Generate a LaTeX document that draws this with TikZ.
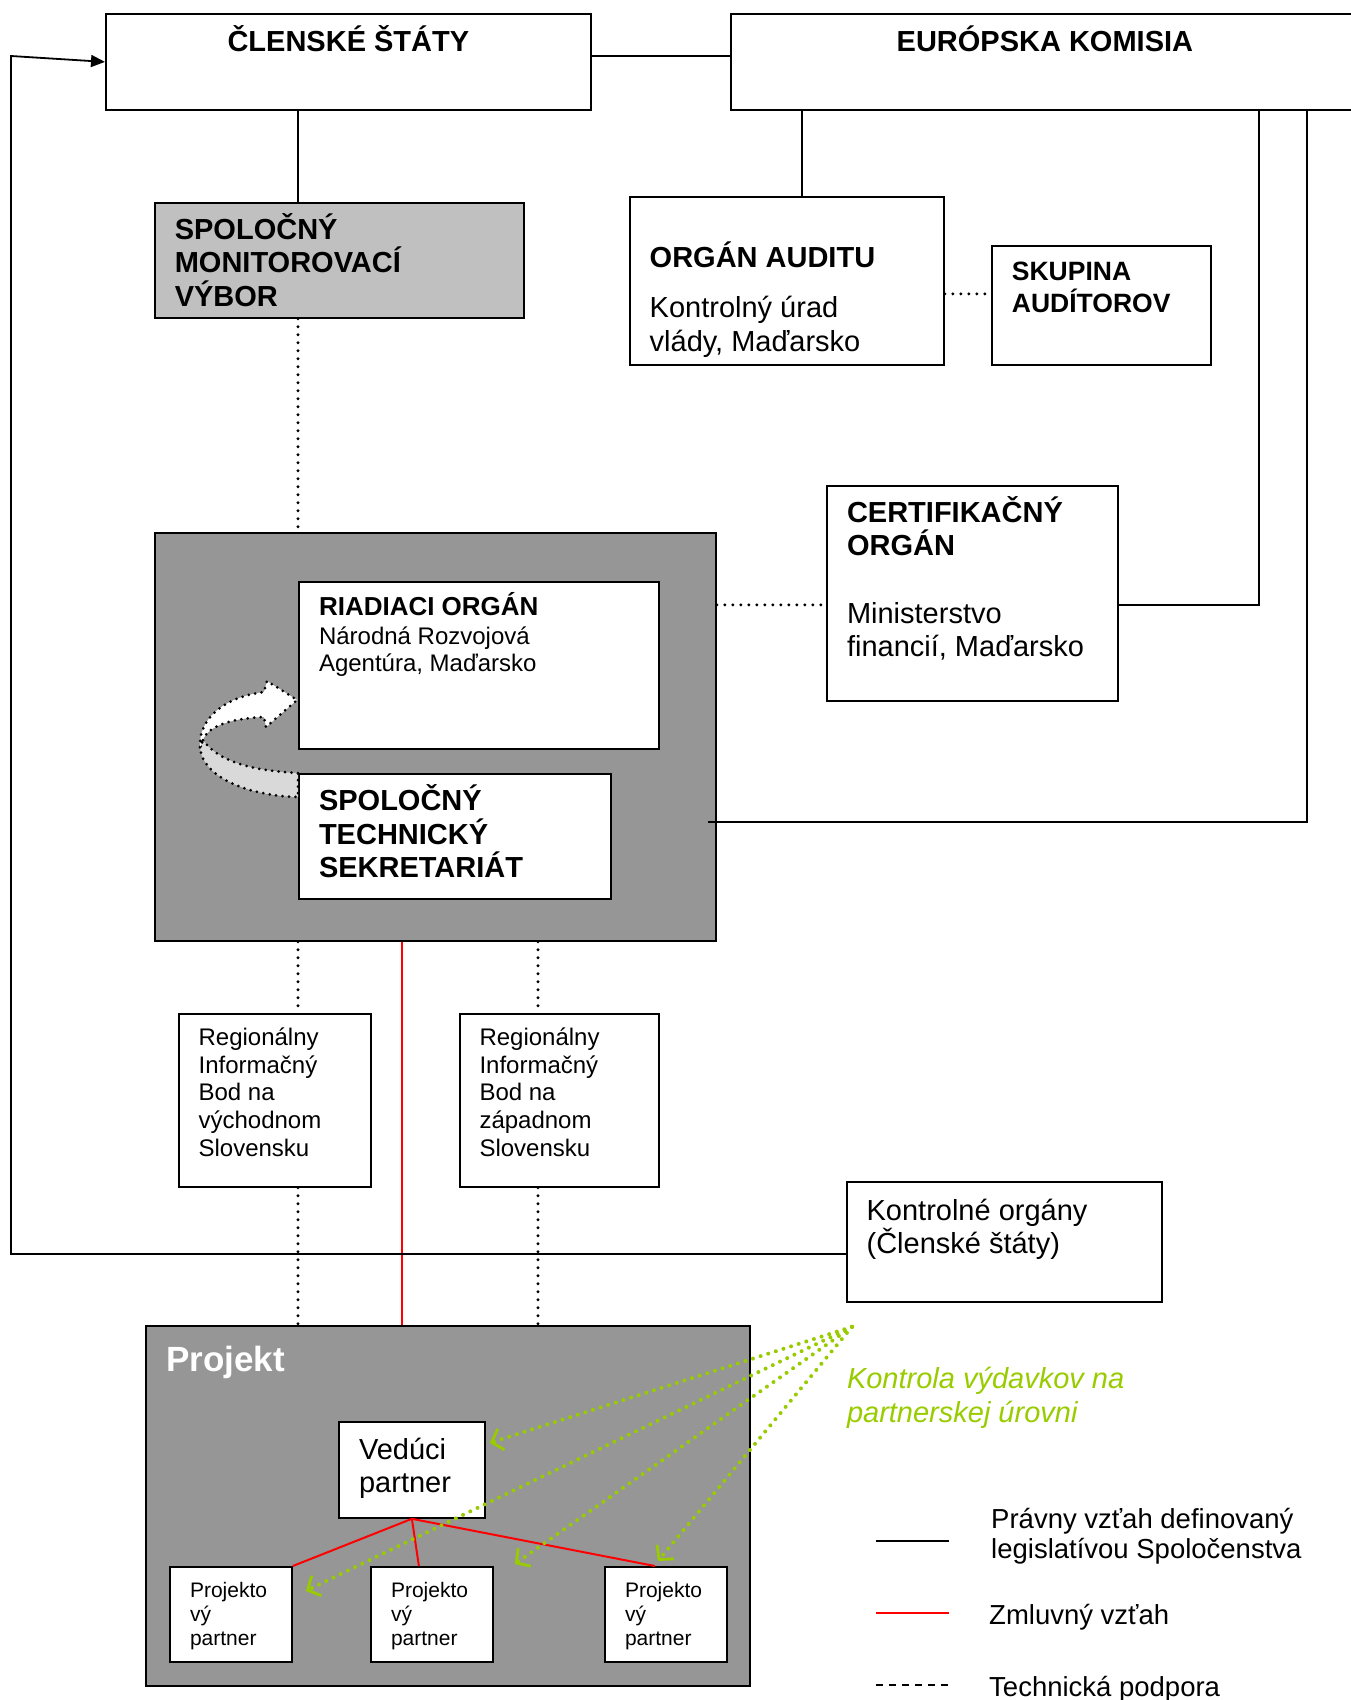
\documentclass[tikz,border=0pt]{standalone}
\usepackage{fontspec}
\setmainfont{Liberation Sans}
\usetikzlibrary{arrows.meta}
\definecolor{boxgray}{HTML}{969696}
\definecolor{paleboxgray}{HTML}{C0C0C0}
\definecolor{arrowgray}{HTML}{D9D9D9}
\definecolor{checkgreen}{HTML}{99CC00}
\begin{document}
\begin{tikzpicture}[x=1pt,y=-1pt,
  box/.style={draw, line width=1.8pt, fill=white, rectangle, inner sep=0pt, anchor=north west},
  txt/.style={inner sep=0pt, anchor=base west, align=left},
  hdbig/.style={font=\bfseries\fontsize{29}{33.6}\selectfont},
  hdmid/.style={font=\bfseries\fontsize{26.5}{31.5}\selectfont},
  plainbig/.style={font=\fontsize{29}{33.6}\selectfont},
  plainmid/.style={font=\fontsize{24}{27.6}\selectfont},
  plainsmall/.style={font=\fontsize{21}{24}\selectfont},
  legendtxt/.style={font=\fontsize{27.5}{30.5}\selectfont},
  link/.style={line width=1.8pt},
  dotline/.style={line width=3.3pt, dash pattern=on 0pt off 8pt, line cap=round},
  arrowdots/.style={line width=3pt, dash pattern=on 0pt off 6.5pt, line cap=round},
  contract/.style={red, line width=2pt},
  check/.style={checkgreen, line width=4pt, dash pattern=on 0pt off 8pt, line cap=round,
    -{Straight Barb[length=10pt,width=22pt,line width=2.8pt]}}]
\useasboundingbox (0,0) rectangle (1351,1700);
\clip (0,0) rectangle (1351,1700);

\node[box, minimum width=485pt, minimum height=96pt] (cs) at (105,13) {};
\node[box, minimum width=628pt, minimum height=96pt] (ek) at (730,13) {};
\node[inner sep=0pt, anchor=base, hdbig] (cst) at ([shift={(0,38.6)}]cs.north) {ČLENSKÉ ŠTÁTY};
\node[inner sep=0pt, anchor=base, hdbig] (ekt) at ([shift={(0,38.6)}]ek.north) {EURÓPSKA KOMISIA};

\node[box, fill=paleboxgray, minimum width=369pt, minimum height=115pt] (smv) at (154,202) {};
\node[txt, hdbig] (smvt) at ([shift={(20.6,104.2)}]smv.north west) {SPOLOČNÝ\\MONITOROVACÍ\\VÝBOR};

\node[box, minimum width=314pt, minimum height=168pt] (oa) at (629,196) {};
\node[txt, hdbig] (oat) at ([shift={(20.5,71)}]oa.north west) {ORGÁN AUDITU};
\node[txt, plainbig] (oad) at ([shift={(20.5,155.1)}]oa.north west) {Kontrolný úrad\\vlády, Maďarsko};

\node[box, minimum width=219pt, minimum height=119pt] (sa) at (991,245) {};
\node[txt, hdmid] (sat) at ([shift={(20.7,67)}]sa.north west) {SKUPINA\\AUDÍTOROV};

\node[box, minimum width=291pt, minimum height=215pt] (co) at (826,485) {};
\node[txt, hdbig] (cot) at ([shift={(20.8,70.6)}]co.north west) {CERTIFIKAČNÝ\\ORGÁN};
\node[txt, plainbig] (cod) at ([shift={(20.8,171.6)}]co.north west) {Ministerstvo\\financií, Maďarsko};

\node[box, fill=boxgray, minimum width=561pt, minimum height=408pt] (ma) at (154,532) {};
\node[box, minimum width=360pt, minimum height=167pt] (ro) at (298,581) {};
\node[txt, font=\bfseries\fontsize{26}{30}\selectfont] (rot) at ([shift={(20.8,34)}]ro.north west) {RIADIACI ORGÁN};
\node[txt, plainmid] (rod) at ([shift={(20.8,90.6)}]ro.north west) {Národná Rozvojová\\Agentúra, Maďarsko};
\node[box, minimum width=312pt, minimum height=125pt] (sts) at (298,773) {};
\node[txt, hdbig] (stst) at ([shift={(20.8,104.7)}]sts.north west) {SPOLOČNÝ\\TECHNICKÝ\\SEKRETARIÁT};

\filldraw[fill=arrowgray, arrowdots] (298,773) .. controls (255,771) and (218,762) .. (203,740)
  -- (200,748) .. controls (203,778) and (250,796) .. (298,797) -- cycle;
\filldraw[fill=white, arrowdots] (203,740) .. controls (208,725) and (235,718) .. (264,717)
  -- (266,727) -- (297,700) -- (267,681) -- (264,692)
  .. controls (225,697) and (198,718) .. (200,748) -- cycle;

\node[box, minimum width=192pt, minimum height=173pt] (re) at (178,1013) {};
\node[txt, plainmid] (ret) at ([shift={(20.4,143.1)}]re.north west) {Regionálny\\Informačný\\Bod na\\východnom\\Slovensku};
\node[box, minimum width=199pt, minimum height=173pt] (rw) at (459,1013) {};
\node[txt, plainmid] (rwt) at ([shift={(20.3,143.1)}]rw.north west) {Regionálny\\Informačný\\Bod na\\západnom\\Slovensku};

\node[box, minimum width=315pt, minimum height=120pt] (ko) at (846,1181) {};
\node[txt, plainbig] (kot) at ([shift={(20.4,72.6)}]ko.north west) {Kontrolné orgány\\(Členské štáty)};

\node[box, fill=boxgray, minimum width=604pt, minimum height=360pt] (proj) at (145,1325) {};
\node[txt, white, font=\bfseries\fontsize{35}{40}\selectfont] (projt) at ([shift={(21,46)}]proj.north west) {Projekt};
\node[box, minimum width=146pt, minimum height=96pt] (vp) at (338,1421) {};
\node[txt, plainbig] (vpt) at ([shift={(20.9,71.6)}]vp.north west) {Vedúci\\partner};
\node[box, minimum width=122pt, minimum height=95pt] (pp1) at (169,1566) {};
\node[box, minimum width=122pt, minimum height=95pt] (pp2) at (370,1566) {};
\node[box, minimum width=122pt, minimum height=95pt] (pp3) at (604,1566) {};
\node[txt, plainsmall] (pp1t) at ([shift={(20.8,79)}]pp1.north west) {Projekto\\vý\\partner};
\node[txt, plainsmall] (pp2t) at ([shift={(20.8,79)}]pp2.north west) {Projekto\\vý\\partner};
\node[txt, plainsmall] (pp3t) at ([shift={(20.8,79)}]pp3.north west) {Projekto\\vý\\partner};

\node[txt, checkgreen, font=\itshape\fontsize{29}{33.6}\selectfont] (kont) at ([shift={(0.8,119.6)}]ko.south west) {Kontrola výdavkov na\\partnerskej úrovni};

\coordinate (xa) at (298,0);
\coordinate (xr) at (402,0);
\coordinate (xb) at (538,0);
\coordinate (xo) at (802,0);
\coordinate (xc) at (1259,0);
\coordinate (xd) at (1307,0);
\coordinate (lp) at (11,56);
\coordinate (cw) at ([yshift=-11.5pt]co.west);
\coordinate (kw) at ([yshift=-12pt]ko.west);
\coordinate (ks) at ([xshift=6pt,yshift=-24pt]ko.south west);

\draw[link] ([yshift=6pt]cs.east) -- ([yshift=6pt]ek.west);
\draw[link] (cs.south -| xa) -- (smv.north -| xa);
\draw[dotline] (smv.south -| xa) -- (ma.north -| xa);
\draw[link] (ek.south -| xo) -- (oa.north -| xo);
\draw[dotline] ([yshift=-13pt]oa.east) -- ([yshift=11.5pt]sa.west);
\draw[link] ([yshift=-11.5pt]co.east) -| (ek.south -| xc);
\draw[link] ([xshift=-9pt,yshift=-85pt]ma.east) -| (ek.south -| xd);
\draw[dotline] (ma.east |- cw) -- (cw);
\draw[dotline] (ma.south -| xa) -- (re.north -| xa);
\draw[dotline] (ma.south -| xb) -- (rw.north -| xb);
\draw[red, line width=1.4pt] (ma.south -| xr) -- (proj.north -| xr);
\draw[dotline] (re.south -| xa) -- (proj.north -| xa);
\draw[dotline] (rw.south -| xb) -- (proj.north -| xb);
\draw[link, -{Triangle[length=14pt,width=12pt]}] (kw) -| (lp) -- (cs.west);

\draw[contract] (vp.south) -- (pp1.north east);
\draw[contract] (vp.south) -- ([xshift=-13pt]pp2.north);
\draw[contract] (vp.south) -- ([xshift=-11pt]pp3.north);

\draw[check] (ks) -- ([xshift=4pt,yshift=27pt]vp.east);
\draw[check] (ks) -- ([xshift=13pt,yshift=23.5pt]pp1.east);
\draw[check] (ks) -- ([xshift=21pt,yshift=2pt]pp2.north east);
\draw[check] (ks) -- ([xshift=-8pt,yshift=5pt]pp3.north);

\draw[link] (876,1541) -- (949,1541);
\draw[contract] (876,1613) -- (949,1613);
\draw[line width=1.6pt, dash pattern=on 7pt off 6pt] (876,1685) -- (949,1685);
\node[txt, legendtxt] (lg1) at (991,1558.5) {Právny vzťah definovaný\\legislatívou Spoločenstva};
\node[txt, legendtxt] (lg2) at (989,1624) {Zmluvný vzťah};
\node[txt, legendtxt] (lg3) at (989,1696) {Technická podpora};
\end{tikzpicture}
\end{document}
